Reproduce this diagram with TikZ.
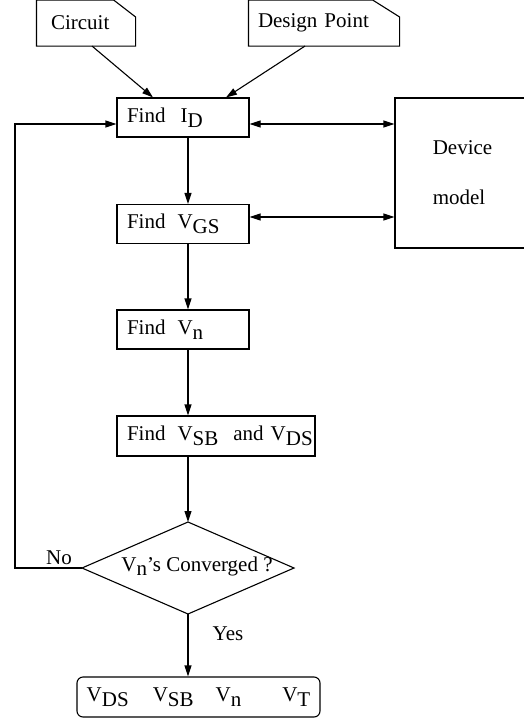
\documentclass[tikz,border=0pt]{standalone}
\usepackage{fontspec}
\setmainfont{Liberation Serif}
\usetikzlibrary{calc,arrows.meta}
\newcommand\lowsub[1]{\raisebox{-4.5pt}{#1}}
\begin{document}
\begin{tikzpicture}[x=1pt,y=-1pt, line width=1.1pt,
  every node/.style={font=\fontsize{21}{25}\selectfont},
  proc/.style={draw, rectangle, minimum height=39pt, inner xsep=10pt, inner ysep=0pt, align=left},
  docbox/.style={rectangle, minimum height=45pt, inner ysep=0pt, align=left},
  arr/.style={-{Triangle[length=11pt,width=7pt]}},
  darr/.style={{Triangle[length=11pt,width=7pt]}-{Triangle[length=11pt,width=7pt]}}]
\useasboundingbox (0,0) rectangle (524,720);

% documents
\node[docbox, text width=70pt, inner xsep=14pt] (circ) at (86,23) {Circuit};
\draw (circ.south west) -- (circ.north west) -- ($(circ.north east)+(-22,0)$) -- ($(circ.north east)+(0,17)$) -- (circ.south east) -- cycle;
\node[docbox, text width=132pt, inner xsep=9pt] (dp) at (324,23) {Design Point};
\draw (dp.south west) -- (dp.north west) -- ($(dp.north east)+(-27,0)$) -- ($(dp.north east)+(0,17)$) -- (dp.south east) -- cycle;

% process boxes
\node[proc, text width=112pt] (id) at (183,117.5) {\mbox{Find\hspace{15pt}I\lowsub{D}}};
\node[proc, text width=112pt] (vgs) at (183,224) {\mbox{Find\hspace{12pt}V\lowsub{GS}}};
\node[proc, text width=112pt] (vn) at (183,329.5) {\mbox{Find\hspace{12pt}V\lowsub{n}}};
\node[proc, text width=178pt, minimum height=40pt] (vsb) at (216,436) {\mbox{Find\hspace{12pt}V\lowsub{SB}\hspace{15pt}and V\lowsub{DS}}};

% device model
\node[draw, minimum width=135pt, minimum height=150pt, align=left] (dev) at (462.5,173) {Device\\[25pt]model};

% decision
\coordinate (dtop) at (188,522);
\coordinate (dbot) at (188,614);
\coordinate (dleft) at (82,568);
\coordinate (dright) at (294,568);
\draw (dtop) -- (dright) -- (dbot) -- (dleft) -- cycle;
\node (dect) at (197,566) {V\lowsub{n}'s Converged ?};

% output
\node[draw, rounded corners=6pt, minimum width=243pt, minimum height=40pt] (out) at (198.5,697)
  {V\lowsub{DS}\hspace{24pt}V\lowsub{SB}\hspace{22pt}V\lowsub{n}\hspace{41pt}V\lowsub{T}};

% connectors
\draw[arr] ($(circ.south)+(6,0)$) -- ($(id.north)+(-30,0)$);
\draw[arr] ($(dp.south)+(-19,0)$) -- ($(id.north)+(43,0)$);
\draw[darr] ($(id.east)+(0,6.5)$) coordinate (a1) -- (a1 -| dev.west);
\draw[darr] ($(vgs.east)+(0,-7)$) coordinate (a2) -- (a2 -| dev.west);
\draw[arr] ($(id.south)+(5,0)$) coordinate (b1) -- (b1 |- vgs.north);
\draw[arr] ($(vgs.south)+(5,0)$) coordinate (b2) -- (b2 |- vn.north);
\draw[arr] ($(vn.south)+(5,0)$) coordinate (b3) -- (b3 |- vsb.north);
\draw[arr] (b3 |- vsb.south) -- (dtop);
\draw[arr] (dbot) -- (dbot |- out.north);
\coordinate (l1) at (15,568);
\coordinate (l2) at (15,124);
\draw[arr] (dleft) -- (l1) -- (l2) -- (a1 -| id.west);

% labels
\node (no) at (59,558) {No};
\node (yes) at (228,634) {Yes};
\end{tikzpicture}
\end{document}
